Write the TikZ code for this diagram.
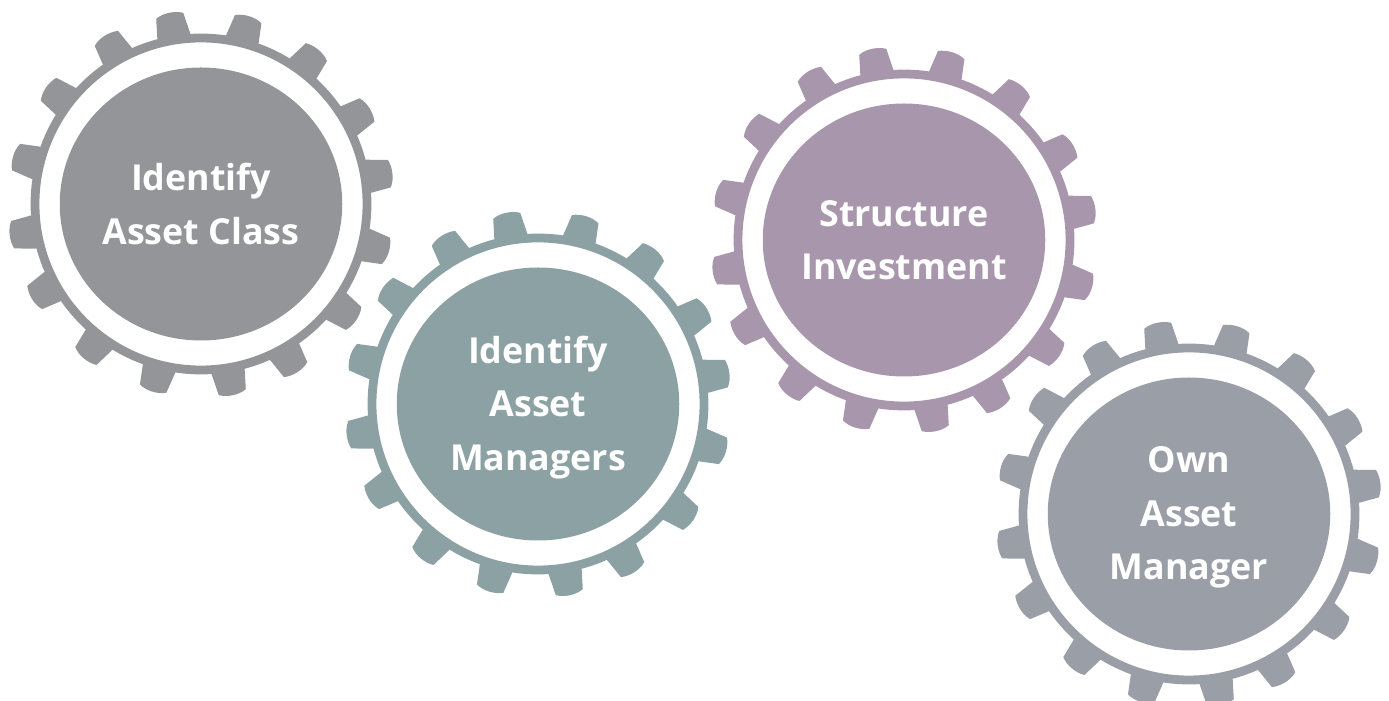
\documentclass[tikz,border=0pt]{standalone}
\usepackage{fontspec}
\usetikzlibrary{shapes.geometric}
\setmainfont{Open Sans}
\definecolor{gearA}{HTML}{939598}
\definecolor{gearB}{HTML}{8CA1A3}
\definecolor{gearC}{HTML}{A897AC}
\definecolor{gearD}{HTML}{9A9EA7}
\tikzset{
  gearlabel/.style={text=white,font=\fontsize{35.8}{53.3}\selectfont\bfseries,align=center,inner sep=0pt},
  geardisc/.style={ellipse,minimum width=282.5pt,minimum height=273pt,inner sep=0pt},
}
% \gearshape{name}{x}{y}{colour}{label offset}{text}
\newcommand{\gearshape}[6]{%
  \begin{scope}[shift={(#2,#3)}]
    \foreach \a/\s in {99.2/1,75.9/-1,53/-1,29.3/1,9.4/-1,-14/-1,-37.1/1,-60.5/1,-80.8/1,-104.3/-1,-126.9/-1,-150.9/1,-170.5/-1,166/-1,142.8/1,119.5/1}{
      \fill[#4] (\a-\s*5.6:169) -- (\a-\s*5.6:171) -- (\a-\s*3.9:192)
        .. controls (\a-\s*1.5:195) and (\a+\s*2:195) .. (\a+\s*4.4:190.5)
        -- (\a+\s*5.6:171) -- (\a+\s*5.6:169) -- cycle;
    }
    \fill[#4,even odd rule] (0,0) circle (170.4) (0,0) circle (161.6);
    \node[geardisc,fill=#4] (#1disc) at (0,0) {};
    \node[gearlabel] (#1) at (0,#5) {#6};
  \end{scope}%
}
\begin{document}
\begin{tikzpicture}[x=1pt,y=1pt]
\useasboundingbox (0,0) rectangle (1389,701);
\clip (0,0) rectangle (1389,701);
\gearshape{g1}{201}{497}{gearA}{0}{Identify\\Asset Class}
\gearshape{g2}{538}{297}{gearB}{-3.5}{Identify\\Asset\\Managers}
\gearshape{g3}{904}{461}{gearC}{0}{Structure\\Investment}
\gearshape{g4}{1189}{187}{gearD}{-3.5}{Own\\Asset\\Manager}
\end{tikzpicture}
\end{document}
